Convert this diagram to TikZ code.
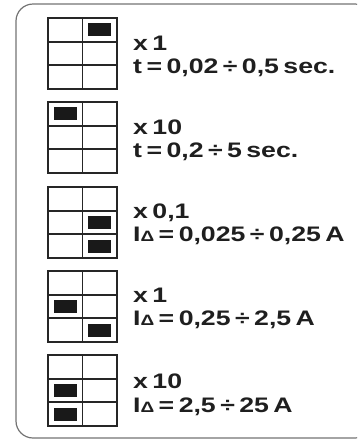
\documentclass[tikz,border=0pt]{standalone}
\usepackage{fontspec}
\setmainfont{Liberation Sans}[FakeStretch=1.27, WordSpace=0.6]
\newcommand{\idelta}{I{\fontsize{15}{15}\selectfont Δ}}
\begin{document}
\begin{tikzpicture}[
  x=1pt, y=-1pt,
  frame/.style={draw=black!55, line width=1.2pt, rounded corners=17pt},
  grid/.style={draw=black!85, line width=1.7pt},
  flag/.style={fill=black!90},
  txt/.style={anchor=base west, inner sep=0pt, text=black!88, font=\fontsize{21}{23}\selectfont\bfseries},
]
  \useasboundingbox (0,0) rectangle (357,440);
  \clip (0,0) rectangle (357,440);

  % Outer frame
  \draw[frame] (16,4) rectangle (372,438);

  % Switch grids, 2 columns by 3 rows
  \foreach \t in {18,102,187,271,355} {
    \draw[grid] (48,\t) rectangle (117,\t+71);
    \draw[grid] (82.5,\t) -- (82.5,\t+71);
    \draw[grid] (48,\t+23.7) -- (117,\t+23.7);
    \draw[grid] (48,\t+47.3) -- (117,\t+47.3);
  }

  % Set switches: grid top / column / row
  \foreach \t/\c/\r in {18/2/1, 102/1/1, 187/2/2, 187/2/3, 271/1/2, 271/2/3, 355/1/2, 355/1/3} {
    \pgfmathsetmacro{\cx}{\c==1 ? 65.2 : 99.8}
    \pgfmathsetmacro{\cy}{\t+(\r-0.5)*23.67}
    \fill[flag] (\cx-11.5,\cy-6.5) rectangle (\cx+11.5,\cy+6.5);
  }

  % Ranges
  \node[txt] (mult1) at (133,50) {x 1};
  \node[txt] (range1) at (133,73) {t = 0,02 ÷ 0,5 sec.};
  \node[txt] (mult2) at (133,134) {x 10};
  \node[txt] (range2) at (133,157) {t = 0,2 ÷ 5 sec.};
  \node[txt] (mult3) at (133,218) {x 0,1};
  \node[txt] (range3) at (133,241) {\idelta\ = 0,025 ÷ 0,25 A};
  \node[txt] (mult4) at (133,302) {x 1};
  \node[txt] (range4) at (133,325) {\idelta\ = 0,25 ÷ 2,5 A};
  \node[txt] (mult5) at (133,388) {x 10};
  \node[txt] (range5) at (133,412) {\idelta\ = 2,5 ÷ 25 A};
\end{tikzpicture}
\end{document}
